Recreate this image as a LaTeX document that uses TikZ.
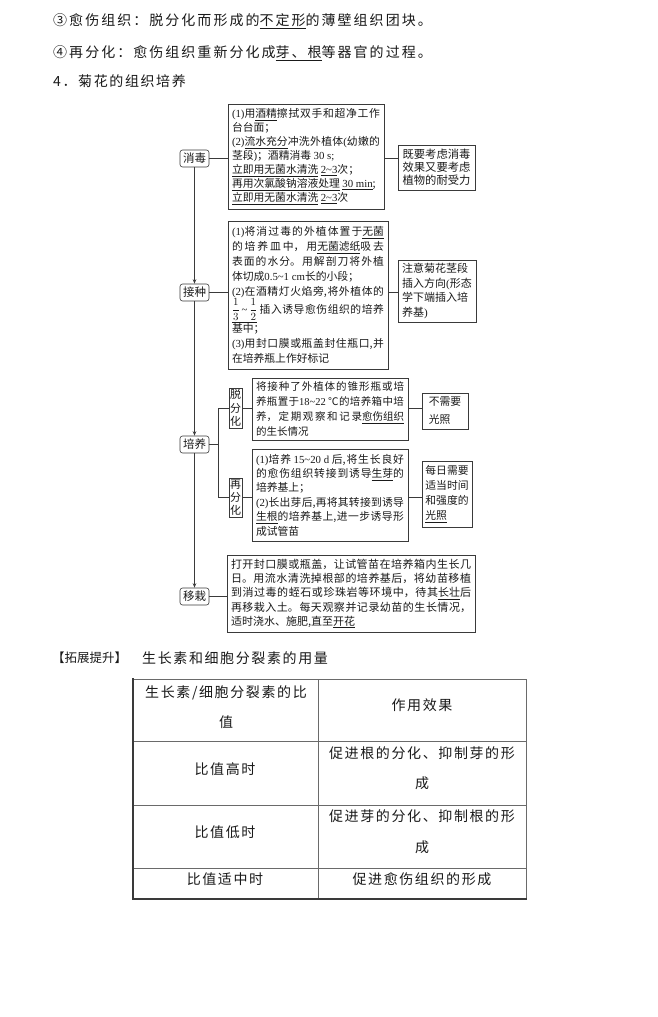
\documentclass[tikz,border=0pt]{standalone}
\usepackage{fontspec}
\setmainfont{Noto Sans CJK SC}
\newfontfamily\bodyf[LetterSpace=11.5]{Noto Sans CJK SC}
\newfontfamily\topf[LetterSpace=14.5]{Noto Sans CJK SC}
\newfontfamily\LSf{Liberation Serif}
\newcommand\LS[1]{{\LSf #1}}
\newcommand\tdl{\textasciitilde}
\newcommand\uln[1]{\underline{#1}}
\newcommand\fr[2]{{\fontsize{11}{12}\selectfont$\displaystyle\frac{#1}{#2}$}}
\XeTeXlinebreaklocale "zh"
\XeTeXlinebreakskip=0pt plus 8pt
\usetikzlibrary{arrows.meta}
\definecolor{lc}{HTML}{3A3A3A}
\definecolor{tc}{HTML}{1A1A1A}
\definecolor{tg}{HTML}{6A6A6A}
\begin{document}
\begin{tikzpicture}[x=1pt,y=-1pt,
  every node/.style={text=tc},
  toptext/.style={anchor=base west, inner sep=0pt, font={\topf\fontsize{14}{17}\selectfont}},
  bodytext/.style={anchor=base west, inner sep=0pt, font={\bodyf\fontsize{14}{17}\selectfont}},
  ctext/.style={anchor=base, inner sep=0pt, font={\bodyf\fontsize{14}{17}\selectfont}},
  lbl/.style={draw=lc, line width=0.6pt, rounded corners=2.5pt, inner sep=0pt, minimum width=29pt, minimum height=17pt, font={\fontsize{11.5}{13}\selectfont}},
  jbox/.style={draw=lc, line width=0.9pt, inner xsep=4pt, inner ysep=2pt, align=justify, font={\fontsize{10.8}{14}\selectfont\tolerance=10000\hbadness=10000}},
  note/.style={draw=lc, line width=0.9pt, inner sep=2pt, align=left, font={\fontsize{11}{13}\selectfont}},
  vbox/.style={draw=lc, line width=0.7pt, inner sep=0pt, minimum width=13pt, align=center, font={\fontsize{11}{13.3}\selectfont}},
  conn/.style={draw=lc, line width=0.8pt},
  arr/.style={conn, -{Stealth[length=4.5pt,width=3.5pt]}},
  tthin/.style={draw=tg, line width=0.8pt},
  tthick/.style={draw=lc, line width=2pt},
]
\fill[white] (0,0) rectangle (657,1017);
\path[use as bounding box] (0,0) rectangle (657,1017);

% top text
\node[toptext] (l1) at (53,25.3) {③愈伤组织：脱分化而形成的\uln{不定形}的薄壁组织团块。};
\node[toptext] (l2) at (53,57.3) {④再分化：愈伤组织重新分化成\uln{芽、根}等器官的过程。};
\node[bodytext] (l3) at (53,86.3) {4．菊花的组织培养};

% step labels
\node[lbl] (xd) at (194.5,158.5) {消毒};
\node[lbl] (jz) at (194.5,292.5) {接种};
\node[lbl] (py) at (194.5,444.5) {培养};
\node[lbl] (yz) at (194.5,596.5) {移栽};

% content boxes
\node[jbox, text width=148pt, minimum height=105pt] (b1) at (306,156.5) {%
\LS{(1)}用\uln{酒精}擦拭双手和超净工作\linebreak 台台面；\\
\LS{(2)}\uln{流水充分}冲洗外植体\LS{(}幼嫩的\linebreak 茎段\LS{)}；酒精消毒 \LS{30 s;}\\
\uln{立即用无菌水清洗} \uln{\LS{2\tdl 3}}次；\\
\uln{再用次氯酸钠溶液处理} \uln{\LS{30 min}};\\
\uln{立即用无菌水清洗} \uln{\LS{2\tdl 3}}次};

\node[jbox, text width=152pt, minimum height=148pt, font={\fontsize{10.8}{15}\selectfont\tolerance=10000\hbadness=10000}] (b2) at (308,295) {%
\LS{(1)}将消过毒的外植体置于\uln{无菌}\linebreak 的培养皿中，用\uln{无菌滤纸}吸去\linebreak 表面的水分。用解剖刀将外植\linebreak 体切成\LS{0.5\tdl 1 cm}长的小段；\\
\LS{(2)}在酒精灯火焰旁,将外植体的\linebreak \rule[-8pt]{0pt}{17pt}\uln{\fr{1}{3}\LS{\,\tdl\,}\fr{1}{2}} 插入诱导愈伤组织的培养\linebreak 基中；\\
\LS{(3)}用封口膜或瓶盖封住瓶口,并\linebreak 在培养瓶上作好标记};

\node[vbox, minimum height=40pt] (tfh) at (235.5,408) {脱\\分\\化};
\node[vbox, minimum height=39pt] (zfh) at (235.5,497.5) {再\\分\\化};

\node[jbox, text width=148pt, minimum height=62pt, font={\fontsize{10.5}{15.3}\selectfont\tolerance=10000\hbadness=10000}] (b3) at (330,409) {%
将接种了外植体的锥形瓶或培\linebreak 养瓶置于\LS{18\tdl 22} ℃的培养箱中培\linebreak 养，定期观察和记录\uln{愈伤组织}\linebreak 的生长情况};

\node[jbox, text width=148pt, minimum height=92pt, font={\fontsize{10.8}{14.4}\selectfont\tolerance=10000\hbadness=10000}] (b4) at (330,495) {%
\LS{(1)}培养 \LS{15\tdl 20 d} 后,将生长良好\linebreak 的愈伤组织转接到诱导\uln{生芽}的\linebreak 培养基上；\\
\LS{(2)}长出芽后,再将其转接到诱导\linebreak \uln{生根}的培养基上,进一步诱导形\linebreak 成试管苗};

\node[jbox, text width=240pt, minimum height=77pt, font={\fontsize{11}{14.3}\selectfont\tolerance=10000\hbadness=10000}] (b5) at (351,593.5) {%
打开封口膜或瓶盖，让试管苗在培养箱内生长几\linebreak 日。用流水清洗掉根部的培养基后，将幼苗移植\linebreak 到消过毒的蛭石或珍珠岩等环境中，待其\uln{长壮}后\linebreak 再移栽入土。每天观察并记录幼苗的生长情况，\linebreak 适时浇水、施肥,直至\uln{开花}};

% notes
\node[note, minimum width=77pt, minimum height=45pt, font={\fontsize{11.3}{13}\selectfont}] (n1) at (436.5,167.5) {既要考虑消毒\\效果又要考虑\\植物的耐受力};
\node[note, minimum width=78pt, minimum height=62pt, font={\fontsize{11}{14.7}\selectfont}] (n2) at (437,291) {注意菊花茎段\\插入方向\LS{(}形态\\学下端插入培\\养基\LS{)}};
\node[note, minimum width=46pt, minimum height=36pt, font={\fontsize{10.8}{18}\selectfont}] (n3) at (445,411) {不需要\\光照};
\node[note, minimum width=50pt, minimum height=66pt, font={\fontsize{10.8}{15}\selectfont}] (n4) at (447,494) {每日需要\\适当时间\\和强度的\\\uln{光照}};

% connectors
\draw[arr] (xd.south) -- (jz.north);
\draw[arr] (jz.south) -- (py.north);
\draw[arr] (py.south) -- (yz.north);
\draw[conn] (xd.east) -- (xd.east -| b1.west);
\draw[conn] (xd.east -| b1.east) -- (xd.east -| n1.west);
\draw[conn] (jz.east) -- (jz.east -| b2.west);
\draw[conn] (jz.east -| b2.east) -- (jz.east -| n2.west);
\draw[conn] (py.east) -- ++(9,0) coordinate (br);
\draw[conn] (tfh.west) -| (br) |- (zfh.west);
\draw[conn] (tfh.east) -- (tfh.east -| b3.west);
\draw[conn] (tfh.east -| b3.east) -- (tfh.east -| n3.west);
\draw[conn] (zfh.east) -- (zfh.east -| b4.west);
\draw[conn] (zfh.east -| b4.east) -- (zfh.east -| n4.west);
\draw[conn] (yz.east) -- (yz.east -| b5.west);

% extension heading
\node[anchor=base west, inner sep=0pt, font={\fontsize{12.5}{15}\selectfont}] (tz) at (52,662.8) {【拓展提升】};
\node[bodytext] (th) at (142,663.3) {生长素和细胞分裂素的用量};

% table
\draw[tthin] (133,679) -- (526,679) (133,741) -- (526,741) (133,805) -- (526,805) (133,868) -- (526,868) (318,679) -- (318,899) (526,679) -- (526,899);
\draw[tthick] (133,678) -- (133,899) -- (527,899);

\node[ctext] (c11a) at (226,697.3) {生长素/细胞分裂素的比};
\node[ctext] (c11b) at (226,727.3) {值};
\node[ctext] (c12) at (422,710.3) {作用效果};
\node[ctext] (c21) at (225,774.3) {比值高时};
\node[ctext] (c22a) at (422,758.3) {促进根的分化、抑制芽的形};
\node[ctext] (c22b) at (422,788.3) {成};
\node[ctext] (c31) at (225,837.3) {比值低时};
\node[ctext] (c32a) at (422,821.3) {促进芽的分化、抑制根的形};
\node[ctext] (c32b) at (422,852.3) {成};
\node[ctext] (c41) at (225,884.3) {比值适中时};
\node[ctext] (c42) at (422,884.3) {促进愈伤组织的形成};
\end{tikzpicture}
\end{document}
